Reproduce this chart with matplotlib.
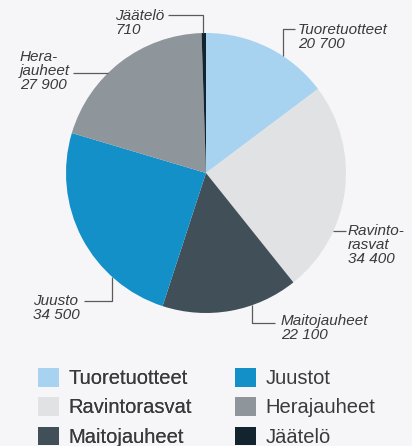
import numpy as np
import matplotlib
matplotlib.use("Agg")
import matplotlib.pyplot as plt
from matplotlib.patches import Patch

# --- data ---
categories = ["Tuoretuotteet", "Ravintorasvat", "Maitojauheet", "Juusto", "Herajauheet", "Jäätelö"]
values = [20700, 34400, 22100, 34500, 27900, 710]
slice_labels = ["Tuoretuotteet", "Ravinto-\nrasvat", "Maitojauheet", "Juusto", "Hera-\njauheet", "Jäätelö"]
legend_labels = ["Tuoretuotteet", "Ravintorasvat", "Maitojauheet", "Juustot", "Herajauheet", "Jäätelö"]
colors = ["#a8d3f0", "#e1e2e4", "#404f58", "#1390c8", "#8e959b", "#13242e"]

# --- layout (pixels) ---
W, H = 412, 446
CX, CY, R = 206, 173, 140
BG = "#f6f6f8"
TXT = "#3a3a3a"
LINE = "#5a5a5a"

plt.rcParams["font.family"] = ["Liberation Sans", "DejaVu Sans"]

# label text top-left, leader polyline (px), and how the leader meets the circle
label_layout = {
    "Jäätelö":       dict(text=(115, 9),   pts=[(168, 15), (203, 15)],  end="v"),
    "Tuoretuotteet": dict(text=(298, 23),  pts=[(295, 29), (283, 29)],  end="v"),
    "Herajauheet":   dict(text=(20, 50),   pts=[(73, 73)],              end="h"),
    "Ravintorasvat": dict(text=(348, 224), pts=[(346, 231)],            end="h"),
    "Juusto":        dict(text=(33, 294),  pts=[(84, 301), (112, 301)], end="v"),
    "Maitojauheet":  dict(text=(281, 314), pts=[(275, 323), (252, 323)], end="v"),
}


def fmt(v):
    return f"{v:,}".replace(",", " ")


def to_data(px, py):
    return (px - CX) / R, (CY - py) / R


fig = plt.figure(figsize=(W / 100, H / 100), dpi=100, facecolor=BG)
ax = fig.add_axes([(CX - R) / W, (H - CY - R) / H, 2 * R / W, 2 * R / H])
ax.set_facecolor(BG)
wedges, _ = ax.pie(values, colors=colors, startangle=90, counterclock=False,
                   radius=1, wedgeprops=dict(linewidth=0))
ax.set_xlim(-1, 1); ax.set_ylim(-1, 1)
ax.axis("off")

for cat, lab, val in zip(categories, slice_labels, values):
    lay = label_layout[cat]
    xs, ys = zip(*[to_data(*p) for p in lay["pts"]])
    xs, ys = list(xs), list(ys)
    # final segment hits the pie edge
    if lay["end"] == "v":
        dx = xs[-1]
        dy = np.sqrt(1 - dx ** 2) * np.sign(ys[-1])
        xs.append(dx); ys.append(dy)
    else:
        dy = ys[-1]
        dx = np.sqrt(1 - dy ** 2) * np.sign(xs[-1])
        xs.append(dx); ys.append(dy)
    ax.plot(xs, ys, color=LINE, lw=0.9, clip_on=False, solid_capstyle="butt")
    tx, ty = to_data(*lay["text"])
    ax.text(tx, ty, f"{lab}\n{fmt(val)}", ha="left", va="top", fontsize=11,
            style="italic", color=TXT, linespacing=1.0, clip_on=False)

handles = [Patch(facecolor=c, edgecolor="none") for c in colors]
leg_kw = dict(loc="upper left", frameon=False, fontsize=14.5, handlelength=1.05,
              handleheight=1.05, handletextpad=0.45, labelspacing=0.45,
              borderpad=0, borderaxespad=0, labelcolor=TXT)
leg1 = fig.legend(handles[:3], legend_labels[:3], bbox_to_anchor=(38 / W, 1 - 368 / H), **leg_kw)
fig.add_artist(leg1)
fig.legend(handles[3:], legend_labels[3:], bbox_to_anchor=(235 / W, 1 - 368 / H), **leg_kw)

fig.savefig("out.png", dpi=100, facecolor=BG)
